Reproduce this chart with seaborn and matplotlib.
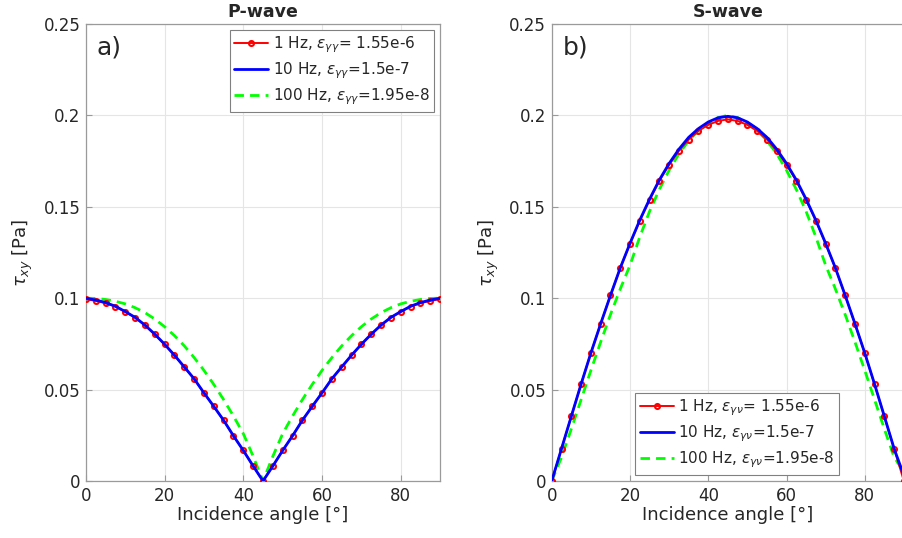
"""Shear stress tau_xy vs incidence angle for P- and S-waves at three frequencies."""

import matplotlib
matplotlib.use("Agg")

import matplotlib.pyplot as plt
import numpy as np
import seaborn as sns

# incidence angles [deg] sampled every 2.5 degrees
angle = np.arange(0, 90.01, 2.5)

# --- P-wave, first half 0..45 deg, mirrored after
p_1hz_half = [0.0995, 0.0985, 0.0973, 0.0954, 0.0925, 0.0894, 0.0852, 0.0802, 0.0747,
              0.0687, 0.0623, 0.0559, 0.0482, 0.0408, 0.0332, 0.0247, 0.0167, 0.0082, 0.0]
p_10hz_half = [0.1000, 0.0990, 0.0976, 0.0956, 0.0927, 0.0895, 0.0853, 0.0803, 0.0748,
               0.0688, 0.0624, 0.0559, 0.0482, 0.0408, 0.0332, 0.0247, 0.0167, 0.0082, 0.0]
p_100hz_half = [0.1000, 0.0999, 0.0993, 0.0983, 0.0969, 0.0948, 0.0921, 0.0886, 0.0844,
                0.0795, 0.0739, 0.0675, 0.0605, 0.0528, 0.0445, 0.0355, 0.0259, 0.0135, 0.0]

# --- S-wave, first half 0..45 deg, mirrored after
s_1hz_half = [0.0, 0.0177, 0.0354, 0.0530, 0.0700, 0.0860, 0.1015, 0.1165, 0.1298,
              0.1424, 0.1538, 0.1642, 0.1730, 0.1806, 0.1868, 0.1915, 0.1948, 0.1970, 0.1978]
s_10hz_half = [0.0, 0.0177, 0.0354, 0.0530, 0.0700, 0.0860, 0.1015, 0.1165, 0.1300,
               0.1427, 0.1542, 0.1647, 0.1737, 0.1815, 0.1880, 0.1928, 0.1964, 0.1987, 0.1995]
s_100hz_half = [0.0, 0.0130, 0.0285, 0.0445, 0.0605, 0.0760, 0.0910, 0.1050, 0.1180,
                0.1335, 0.1475, 0.1595, 0.1700, 0.1790, 0.1862, 0.1918, 0.1958, 0.1988, 0.2000]


def mirror(half, end=None):
    vals = list(half) + list(half[-2::-1])
    if end is not None:
        vals[-1] = end
    return vals


p_1hz, p_10hz, p_100hz = mirror(p_1hz_half), mirror(p_10hz_half), mirror(p_100hz_half)
s_1hz = mirror(s_1hz_half)
s_10hz = mirror(s_10hz_half, end=0.003)
s_100hz = mirror(s_100hz_half, end=0.005)

freq_labels = ["1 Hz", "10 Hz", "100 Hz"]
eps_p = [r"$\epsilon_{\gamma\gamma}$= 1.55e-6", r"$\epsilon_{\gamma\gamma}$=1.5e-7",
         r"$\epsilon_{\gamma\gamma}$=1.95e-8"]
eps_s = [r"$\epsilon_{\gamma\nu}$= 1.55e-6", r"$\epsilon_{\gamma\nu}$=1.5e-7",
         r"$\epsilon_{\gamma\nu}$=1.95e-8"]

yticks = [0, 0.05, 0.1, 0.15, 0.2, 0.25]
ytick_labels = ["0", "0.05", "0.1", "0.15", "0.2", "0.25"]
xticks = [0, 20, 40, 60, 80]

sns.set_style("whitegrid", {
    "grid.color": "#e5e5e5",
    "axes.edgecolor": "#9a9a9a",
    "xtick.direction": "in",
    "ytick.direction": "in",
})
plt.rcParams.update({
    "font.family": ["DejaVu Sans"],
    "mathtext.fontset": "dejavusans",
    "axes.linewidth": 0.9,
    "xtick.bottom": True,
    "ytick.left": True,
    "xtick.color": "#262626",
    "ytick.color": "#262626",
})

fig = plt.figure(figsize=(9.03, 5.38), dpi=100)
ax_p = fig.add_axes([0.0952, 0.1059, 0.3921, 0.8495])
ax_s = fig.add_axes([0.6110, 0.1059, 0.3900, 0.8495])


def draw_panel(ax, series, eps, title, tag, legend_kw):
    y1, y10, y100 = series
    sns.lineplot(x=angle, y=y1, ax=ax, color="#ff0000", lw=1.4, marker="o",
                 markersize=3.6, markerfacecolor="none", markeredgecolor="#ff0000",
                 markeredgewidth=1.5, label=f"{freq_labels[0]}, {eps[0]}", zorder=3)
    sns.lineplot(x=angle, y=y10, ax=ax, color="#0000ff", lw=2.0,
                 label=f"{freq_labels[1]}, {eps[1]}", zorder=4)
    sns.lineplot(x=angle, y=y100, ax=ax, color="#00ff00", lw=2.0, dashes=False,
                 label=f"{freq_labels[2]}, {eps[2]}", zorder=2)
    ax.lines[-1].set_dashes((3.4, 2.2))
    ax.set_xlim(0, 90)
    ax.set_ylim(0, 0.25)
    ax.set_xticks(xticks)
    ax.set_yticks(yticks)
    ax.set_yticklabels(ytick_labels)
    ax.tick_params(labelsize=12, length=4, width=0.8, color="#9a9a9a", pad=4)
    ax.set_xlabel("Incidence angle [°]", fontsize=13, labelpad=1)
    ax.set_ylabel(r"$\tau_{xy}$ [Pa]", fontsize=13, labelpad=6)
    ax.set_title(title, fontsize=12.5, fontweight="bold", pad=5)
    ax.text(0.03, 0.975, tag, transform=ax.transAxes, fontsize=18, va="top", ha="left")
    for sp in ax.spines.values():
        sp.set_visible(True)
        sp.set_color("#9a9a9a")
    leg = ax.legend(fontsize=11, handlelength=2.2, handletextpad=0.3, borderpad=0.3,
                    labelspacing=0.35, fancybox=False, framealpha=1, borderaxespad=0.4,
                    **legend_kw)
    leg.get_frame().set_edgecolor("#808080")
    leg.get_frame().set_linewidth(0.8)


draw_panel(ax_p, (p_1hz, p_10hz, p_100hz), eps_p, "P-wave", "a)",
           {"loc": "upper right"})
draw_panel(ax_s, (s_1hz, s_10hz, s_100hz), eps_s, "S-wave", "b)",
           {"loc": "lower left", "bbox_to_anchor": (0.22, 0.0)})

fig.savefig("out.png", dpi=100)
